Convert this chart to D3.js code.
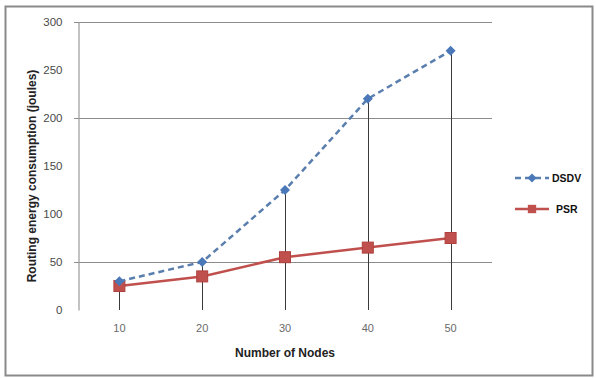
<!DOCTYPE html>
<html>
<head>
<meta charset="utf-8">
<script src="https://cdn.jsdelivr.net/npm/d3@7"></script>
<style>
  html, body { margin: 0; padding: 0; background: #fff; }
  svg { display: block; }
  text { font-family: "Liberation Sans", Arial, sans-serif; }
</style>
</head>
<body>
<script>
// Routing energy consumption per protocol vs. number of nodes
const categories = ["10", "20", "30", "40", "50"];
const dsdv = [30, 50, 125, 220, 270];
const psr = [25, 35, 55, 65, 75];
const yTicks = [0, 50, 100, 150, 200, 250, 300];
const gridValues = [50, 200, 300];

const W = 596, H = 378;
const svg = d3.select("body").append("svg").attr("width", W).attr("height", H);

// outer frame
svg.append("rect").attr("x", 5.5).attr("y", 6.5).attr("width", 587).attr("height", 369)
  .attr("fill", "#fff").attr("stroke", "#8a8a8a").attr("stroke-width", 2);

const plot = { left: 78, right: 492, top: 22, bottom: 310 };

const x = d3.scaleBand().domain(categories).range([plot.left, plot.right]);
const y = d3.scaleLinear().domain([0, 300]).range([plot.bottom, plot.top]);
const cx = c => x(c) + x.bandwidth() / 2;

// horizontal gridlines
svg.append("g").selectAll("line").data(gridValues).join("line")
  .attr("x1", plot.left - 4).attr("x2", plot.right)
  .attr("y1", d => Math.round(y(d)) + 0.5).attr("y2", d => Math.round(y(d)) + 0.5)
  .attr("stroke", "#8c8c8c").attr("stroke-width", 1.2);

// value axis
const yAxis = d3.axisLeft(y).tickValues(yTicks).tickSize(0).tickPadding(16);
const gy = svg.append("g").attr("transform", `translate(${plot.left + 0.5},0)`).call(yAxis);
gy.select(".domain").attr("stroke", "#9a9a9a").attr("stroke-width", 1.2);
gy.selectAll("text").attr("font-size", 11.5).attr("fill", "#4a4a4a");

// category axis labels
const xAxis = d3.axisBottom(x).tickSize(0).tickPadding(14);
const gx = svg.append("g").attr("transform", `translate(0,${plot.bottom})`).call(xAxis);
gx.select(".domain").remove();
gx.selectAll("text").attr("font-size", 11).attr("fill", "#6a6a6a");

// drop lines from highest point to the axis
svg.append("g").selectAll("line").data(categories).join("line")
  .attr("x1", c => Math.round(cx(c)) + 0.5).attr("x2", c => Math.round(cx(c)) + 0.5)
  .attr("y1", (c, i) => y(Math.max(dsdv[i], psr[i])))
  .attr("y2", plot.bottom)
  .attr("stroke", "#3a3a3a").attr("stroke-width", 1);

const line = d3.line().x((d, i) => cx(categories[i])).y(d => y(d));

// square markers rotated 45° give the diamond
const diamondPath = size => d3.symbol().type(d3.symbolSquare).size(size)();

// PSR series
svg.append("path").datum(psr).attr("d", line)
  .attr("fill", "none").attr("stroke", "#c0504d").attr("stroke-width", 2.5);
svg.append("g").selectAll("rect").data(psr).join("rect")
  .attr("x", (d, i) => cx(categories[i]) - 5.5).attr("y", d => y(d) - 5.5)
  .attr("width", 11).attr("height", 11).attr("fill", "#c0504d").attr("stroke", "#b0403d");

// DSDV series
svg.append("path").datum(dsdv).attr("d", line)
  .attr("fill", "none").attr("stroke", "#5a7fae").attr("stroke-width", 2.5)
  .attr("stroke-dasharray", "6,4");
svg.append("g").selectAll("path").data(dsdv).join("path")
  .attr("d", diamondPath(50))
  .attr("transform", (d, i) => `translate(${cx(categories[i])},${y(d)}) rotate(45)`)
  .attr("fill", "#4a78b8");

// axis titles
svg.append("text")
  .attr("transform", `translate(36,${(plot.top + plot.bottom) / 2 + 10}) rotate(-90)`)
  .attr("text-anchor", "middle").attr("font-size", 12).attr("font-weight", "bold")
  .attr("fill", "#222").text("Routing energy consumption (joules)");
svg.append("text")
  .attr("x", 285).attr("y", 357).attr("text-anchor", "middle")
  .attr("font-size", 12).attr("font-weight", "bold").attr("fill", "#222")
  .text("Number of Nodes");

// legend
const legend = [
  { name: "DSDV", color: "#5a7fae", dash: "6,4", marker: "diamond", y: 178 },
  { name: "PSR", color: "#c0504d", dash: null, marker: "square", y: 209 }
];
const lg = svg.append("g").selectAll("g").data(legend).join("g");
lg.append("line")
  .attr("x1", 515).attr("x2", 549).attr("y1", d => d.y).attr("y2", d => d.y)
  .attr("stroke", d => d.color).attr("stroke-width", 2.5)
  .attr("stroke-dasharray", d => d.dash);
lg.append("path")
  .attr("d", d => d.marker === "diamond" ? diamondPath(40) : diamondPath(70))
  .attr("transform", d => `translate(532,${d.y})` + (d.marker === "diamond" ? " rotate(45)" : ""))
  .attr("fill", d => d.marker === "diamond" ? "#4a78b8" : "#c0504d");
lg.append("text")
  .attr("x", d => d.marker === "diamond" ? 552 : 556).attr("y", d => d.y + 4)
  .attr("font-size", 10.5).attr("font-weight", "bold").attr("fill", "#111")
  .text(d => d.name);
</script>
</body>
</html>
